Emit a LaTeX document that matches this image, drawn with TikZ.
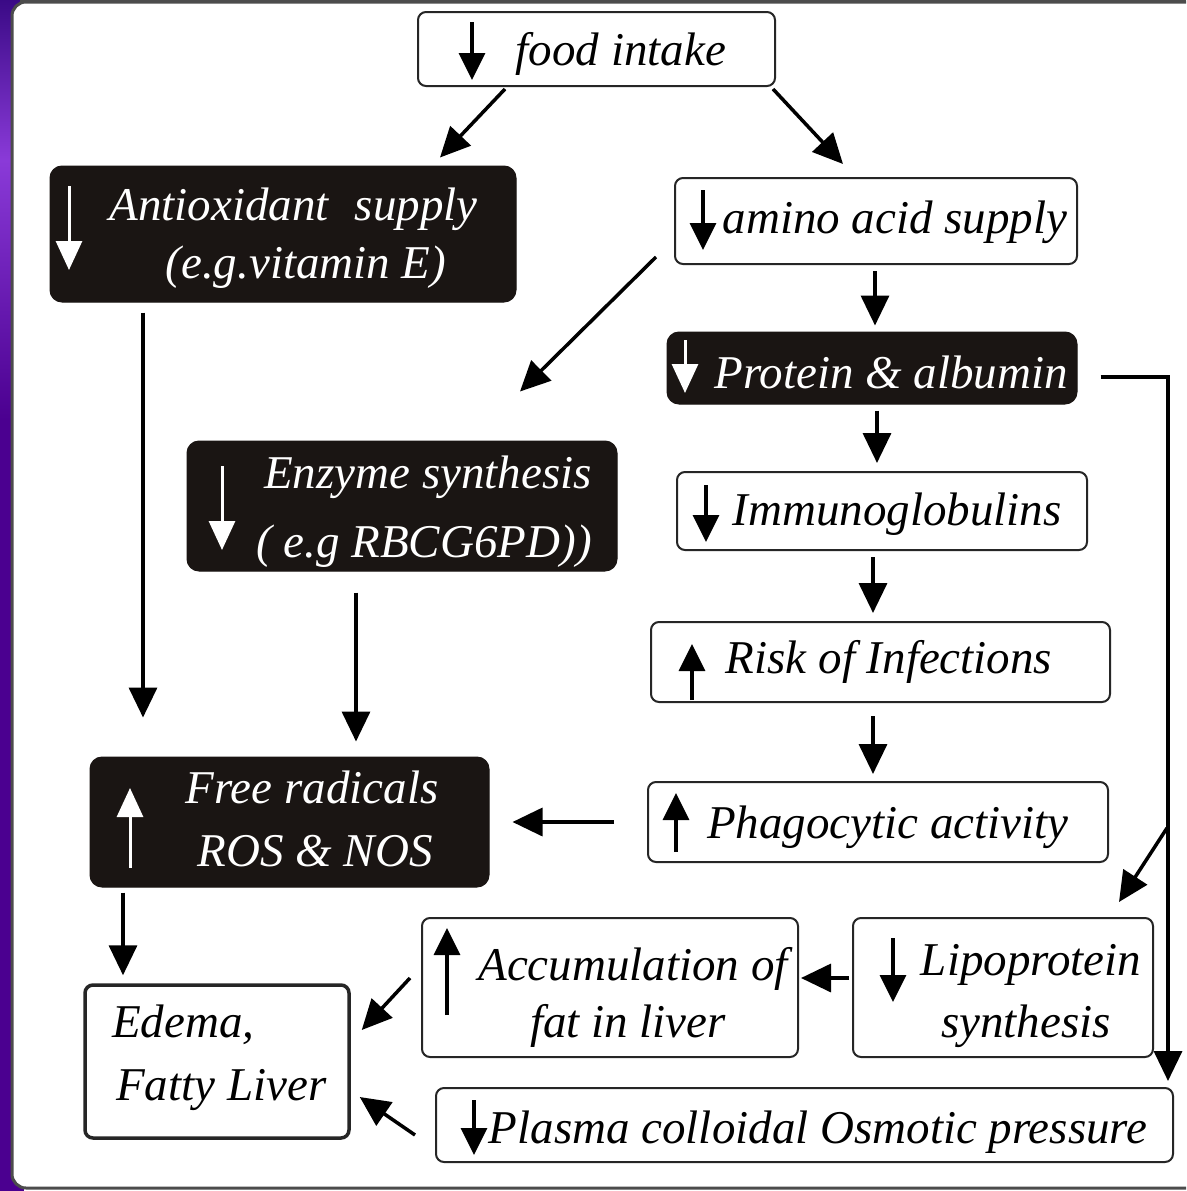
\documentclass[tikz,border=0pt]{standalone}
\usepackage{fontspec}
\setmainfont{Liberation Serif}
\usetikzlibrary{arrows.meta}
\definecolor{boxblack}{HTML}{1A1513}
\definecolor{pdark}{HTML}{3A0A86}
\definecolor{pind}{HTML}{4B0090}
\definecolor{pmid}{HTML}{8A3AD8}
\tikzset{
  wbox/.style={draw=black!85, line width=2pt, rounded corners=8pt, fill=white, inner sep=0pt},
  bbox/.style={draw=boxblack, line width=1pt, rounded corners=12pt, fill=boxblack, inner sep=0pt},
  txt/.style={anchor=base, inner sep=0pt, font=\fontsize{47}{56}\selectfont\itshape},
  wtxt/.style={txt, text=white},
  conn/.style={line width=3.5pt, -{Triangle[length=30pt,width=28pt]}},
  inarr/.style={line width=3.5pt, -{Triangle[length=27pt,width=26pt]}},
  inarrw/.style={line width=3pt, white, -{Triangle[length=29pt,width=26pt]}}
}
\begin{document}
\begin{tikzpicture}[x=1pt,y=-1pt]
\useasboundingbox (0,0) rectangle (1186,1191);
\clip (0,0) rectangle (1186,1191);
% background and frame
\fill[white] (0,0) rectangle (1186,1191);
\fill[pind] (0,0) rectangle (24,1191);
\shade[top color=pdark, bottom color=pmid] (0,0) rectangle (24,160);
\shade[top color=pmid, bottom color=pind] (0,160) rectangle (24,420);
\fill[black!70] (20,0) rectangle (1186,3);
\draw[draw=black!70, line width=3pt, fill=white, rounded corners=14pt] (12,2) rectangle (1210,1188);

% boxes
\node[wbox, minimum width=357pt, minimum height=74pt] (food) at (596.5,49) {};
\node[bbox, minimum width=466pt, minimum height=136pt] (antiox) at (283,234) {};
\node[wbox, minimum width=402pt, minimum height=86pt] (amino) at (876,221) {};
\node[bbox, minimum width=410pt, minimum height=72pt] (protein) at (872,368) {};
\node[bbox, minimum width=430pt, minimum height=130pt] (enzyme) at (402,506) {};
\node[wbox, minimum width=410pt, minimum height=78pt] (immuno) at (882,511) {};
\node[wbox, minimum width=459pt, minimum height=80pt] (risk) at (880.5,662) {};
\node[wbox, minimum width=460pt, minimum height=80pt] (phago) at (878,822) {};
\node[bbox, minimum width=399pt, minimum height=130pt] (free) at (289.5,822) {};
\node[wbox, minimum width=300pt, minimum height=139pt] (lipo) at (1003,987.5) {};
\node[wbox, minimum width=376pt, minimum height=139pt] (accum) at (610,987.5) {};
\node[wbox, line width=3.5pt, minimum width=264pt, minimum height=153pt] (edema) at (217,1061.5) {};
\node[wbox, minimum width=737pt, minimum height=74pt] (plasma) at (804.5,1125) {};

% texts
\node[txt] (tfood) at (621,65) {food intake};
\node[wtxt] (tantiox1) at (293.5,220) {Antioxidant\hspace{0.3em} supply};
\node[wtxt] (tantiox2) at (306,278) {(e.g.vitamin E)};
\node[txt] (tamino) at (895,233) {amino acid supply};
\node[wtxt] (tprotein) at (891,388) {Protein \& albumin};
\node[wtxt] (tenzyme1) at (428,488) {Enzyme synthesis};
\node[wtxt] (tenzyme2) at (424,557) {( e.g RBCG6PD))};
\node[txt] (timmuno) at (897,525) {Immunoglobulins};
\node[txt] (trisk) at (889,673) {Risk of Infections};
\node[txt] (tphago) at (888,838) {Phagocytic activity};
\node[wtxt] (tfree1) at (312,803) {Free radicals};
\node[wtxt] (tfree2) at (315,866) {ROS \& NOS};
\node[txt] (tlipo1) at (1031,975) {Lipoprotein};
\node[txt] (tlipo2) at (1026,1037) {synthesis};
\node[txt] (taccum1) at (633,980) {Accumulation of};
\node[txt] (taccum2) at (628,1037) {fat in liver};
\node[txt, anchor=base west] (tedema1) at (112,1037) {Edema,};
\node[txt, anchor=base west] (tedema2) at (116,1100) {Fatty Liver};
\node[txt] (tplasma) at (818,1143) {Plasma colloidal Osmotic pressure};

% arrows inside boxes
\draw[inarr] (472,22) -- (472,80);
\draw[inarrw] (69,186) -- (69,270);
\draw[inarr] (703,190) -- (703,250);
\draw[inarrw] (685,340) -- (685,393);
\draw[inarrw] (222,466) -- (222,550);
\draw[inarr] (706,485) -- (706,542);
\draw[inarr] (692,700) -- (692,644);
\draw[inarr] (676,852) -- (676,793);
\draw[inarrw] (130,868) -- (130,788);
\draw[inarr] (893,938) -- (893,1002);
\draw[inarr] (447,1015) -- (447,928);
\draw[inarr] (474,1100) -- (474,1155);

% connectors
\draw[conn] ([xshift=-91.5pt,yshift=-2pt]food.south) -- ([xshift=157pt,yshift=8pt]antiox.north);
\draw[conn] ([xshift=176.5pt,yshift=-2pt]food.south) -- ([xshift=-33pt,yshift=13pt]amino.north);
\draw[conn] ([xshift=-18pt,yshift=-36pt]amino.west) -- ([xshift=118pt,yshift=49pt]enzyme.north);
\draw[conn] ([xshift=-1pt,yshift=-6pt]amino.south) -- ([xshift=3pt,yshift=6pt]protein.north);
\draw[conn] ([xshift=5pt,yshift=-6pt]protein.south) -- ([xshift=-5pt,yshift=8pt]immuno.north);
\draw[conn] ([xshift=-9pt,yshift=-6pt]immuno.south) -- ([xshift=-7.5pt,yshift=8pt]risk.north);
\draw[conn] ([xshift=-7.5pt,yshift=-13pt]risk.south) -- ([xshift=-5pt,yshift=7pt]phago.north);
\draw[conn] ([xshift=-33pt]phago.west) -- ([xshift=23pt]free.east);
\draw[conn] ([xshift=-140pt,yshift=-10pt]antiox.south) -- ([xshift=-146.5pt,yshift=39pt]free.north);
\draw[conn] ([xshift=-46pt,yshift=-21pt]enzyme.south) -- ([xshift=66.5pt,yshift=15pt]free.north);
\draw[conn] ([xshift=-166.5pt,yshift=-5pt]free.south) -- ([xshift=-94pt,yshift=8pt]edema.north);
\draw[conn, rounded corners=0pt] ([xshift=23pt,yshift=-9pt]protein.east) -| ([xshift=-6pt,yshift=6pt]plasma.north east);
\coordinate (branch) at (1167,828);
\draw[conn] (branch) -- ([xshift=-35pt,yshift=15pt]lipo.north east);
\draw[conn] ([xshift=-3pt,yshift=9.5pt]lipo.west) -- ([xshift=2pt,yshift=9.5pt]accum.east);
\draw[conn] ([xshift=-11pt,yshift=9.5pt]accum.west) -- ([xshift=11pt,yshift=31.5pt]edema.east);
\draw[conn] ([xshift=-20pt,yshift=-10pt]plasma.west) -- ([xshift=9pt,yshift=-35.5pt]edema.east);
\end{tikzpicture}
\end{document}
